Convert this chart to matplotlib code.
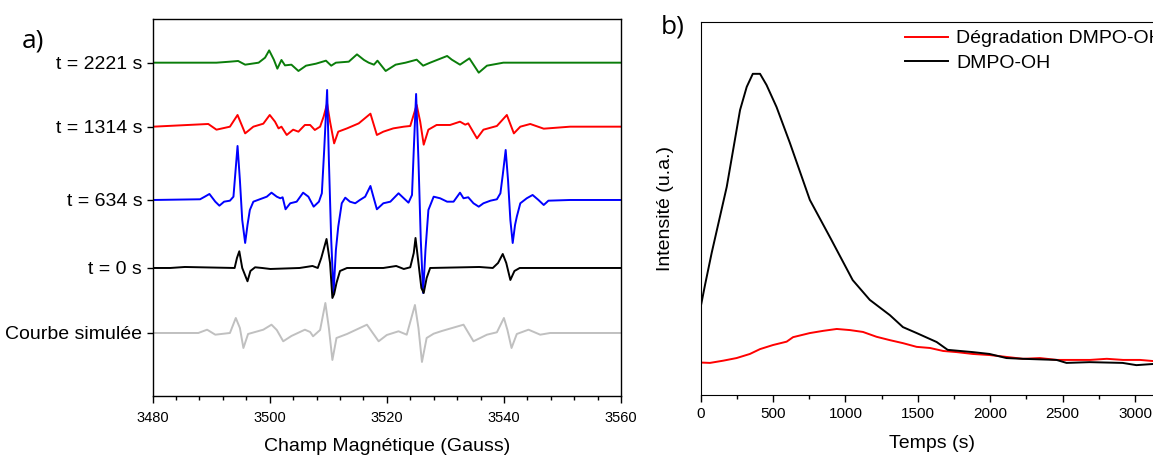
import numpy as np
import matplotlib
matplotlib.use("Agg")
import matplotlib.pyplot as plt
from matplotlib.ticker import MultipleLocator

plt.rcParams['font.family'] = ['Liberation Sans', 'DejaVu Sans']

# ---- a) RPE spectra (field in Gauss, signal in a.u. relative to own baseline)
labels = ["t = 2221 s", "t = 1314 s", "t = 634 s", "t = 0 s", "Courbe simulée"]
baselines = [333.3, 269.3, 196.0, 128.0, 63.0]
colors_a = ["#0a7d0a", "#ff0000", "#0000ff", "#000000", "#c0c0c0"]

field_2221 = [3480.1, 3490.9, 3493.2, 3494.6, 3495.8, 3498.1, 3499.2, 3499.9, 3500.7, 3501.3,
              3502.0, 3502.6, 3503.7, 3504.9, 3506.2, 3507.9, 3509.6, 3510.5, 3511.3, 3513.5,
              3514.9, 3516.1, 3516.9, 3517.8, 3518.4, 3519.8, 3521.5, 3523.2, 3525.1, 3526.2,
              3527.4, 3530.3, 3531.1, 3532.5, 3534.1, 3535.7, 3537.1, 3539.9, 3551.3, 3560.0]
sig_2221 = [0, 0, 1, 1.7, -2, 0, 5, 12.3, 3, -6,
            2.7, -2.7, -2, -8.3, -3, -1, 2, -3, 0, 1,
            8.3, 2.7, 0, -2, 2, -8.3, -2, 0, 3, -3,
            0, 6.7, 3, -2, 4.3, -10, -3, 0, 0, 0]

field_1314 = [3480.1, 3489.5, 3490.9, 3493.2, 3494.5, 3495.8, 3497.2, 3498.9, 3500.0, 3500.9,
              3501.5, 3502.0, 3502.9, 3504.0, 3504.9, 3506.0, 3506.9, 3507.7, 3508.6, 3509.2,
              3509.8, 3510.3, 3511.0, 3511.7, 3513.2, 3515.2, 3517.2, 3518.3, 3519.4, 3521.1,
              3522.9, 3524.0, 3525.1, 3525.7, 3526.3, 3527.1, 3528.5, 3530.8, 3532.5, 3533.4,
              3533.9, 3535.4, 3536.5, 3538.8, 3540.5, 3541.7, 3542.8, 3544.5, 3546.8, 3551.3, 3560.0]
sig_1314 = [0, 2.7, -3, 0, 11.7, -6.7, 0, 3, 11.7, 5,
            -1.7, 0, -8.3, -3, -5, 1.7, 1.7, -3.3, 0, 10,
            23, 5, -16.7, -5, -1.7, 3.3, 13, -8.3, -5, -1.7,
            0, 0.7, 21.7, 5, -18, -3, 1.7, 1.7, 5, 2,
            3.3, -11.7, -3, 0.7, 11.7, -6.7, 0, 2.7, -2, 0, 0]

field_634 = [3480.1, 3488.1, 3488.9, 3489.7, 3490.7, 3491.4, 3492.2, 3493.2, 3493.8, 3494.1,
             3494.5, 3494.9, 3495.3, 3495.8, 3496.2, 3496.6, 3497.2, 3498.3, 3499.5, 3500.3,
             3501.2, 3501.8, 3502.2, 3502.7, 3503.5, 3504.6, 3505.7, 3506.6, 3507.5, 3508.4,
             3508.9, 3509.3, 3509.8, 3510.1, 3510.5, 3510.9, 3511.3, 3511.7, 3512.3, 3512.9,
             3513.7, 3514.6, 3515.4, 3516.3, 3517.2, 3517.7, 3518.3, 3519.4, 3520.6, 3522.0,
             3522.9, 3523.7, 3524.3, 3524.6, 3525.0, 3525.4, 3525.8, 3526.2, 3526.6, 3527.1,
             3528.0, 3529.1, 3530.3, 3531.4, 3532.5, 3533.1, 3533.9, 3534.8, 3535.7, 3536.5,
             3537.7, 3538.8, 3539.4, 3539.8, 3540.3, 3540.7, 3541.1, 3541.5, 3541.9, 3542.2,
             3542.8, 3543.9, 3544.9, 3545.9, 3546.8, 3547.6, 3551.3, 3560.0]
sig_634 = [0, 0.7, 3.3, 6, -1.7, -5.7, -1.7, -0.7, 3.3, 25,
           54, 20, -20, -43, -25, -10, -1.7, 0.7, 3.3, 7.3,
           3.3, 1.7, 2.7, -9.3, -3.3, -1.7, 7.3, 3.3, -6.7, -1.7,
           6.7, 50, 110, 40, -40, -93, -50, -26.7, -3.3, 2.3,
           -1.7, -3.3, 0, 3.3, 14, 3.3, -9.3, -3.3, -1.7, 6.7,
           1.7, -2.7, 5, 50, 106, 40, -40, -93, -50, -10,
           3.3, 1.7, -1.7, -1.7, 7.3, 1.7, 2.7, -3.3, -6.7, -3.3,
           -0.7, 0.7, 6.7, 25, 50, 20, -20, -43, -25, -16.7,
           -3.3, 1.7, 5, 0, -5, -0.7, 0, 0]

field_0 = [3480.1, 3483.0, 3485.5, 3494.0, 3494.4, 3494.8, 3495.3, 3496.2, 3496.7, 3497.5,
           3498.7, 3500.1, 3505.1, 3506.2, 3507.3, 3508.2, 3508.8, 3509.7, 3510.3, 3510.7,
           3511.0, 3511.4, 3512.0, 3513.2, 3519.4, 3521.6, 3522.9, 3524.0, 3524.6, 3524.9,
           3525.4, 3525.9, 3526.3, 3526.8, 3527.4, 3535.8, 3538.1, 3539.0, 3539.8, 3540.4,
           3541.1, 3541.8, 3542.7, 3551.3, 3560.0]
sig_0 = [0, 0, 1, 0, 10, 16.7, 0, -13.3, -3, 0.7,
         0, -1, 0, 1, 2, 0, 10, 29, 5, -30,
         -26, -15, -3, 0, 0, 2, -1, 0.7, 15, 30,
         5, -20, -25, -10, 0, 1, 0, 5, 14, 5,
         -12, -3, 0, 0, 0]

field_sim = [3480.1, 3487.8, 3489.3, 3490.7, 3493.2, 3494.2, 3494.9, 3495.5, 3496.3, 3498.9,
             3500.3, 3501.2, 3502.3, 3503.7, 3506.0, 3506.9, 3507.4, 3508.6, 3509.5, 3510.1,
             3510.7, 3511.4, 3513.2, 3516.6, 3518.6, 3520.0, 3522.0, 3523.4, 3524.8, 3525.4,
             3526.0, 3526.8, 3528.0, 3529.4, 3533.1, 3534.8, 3537.1, 3538.8, 3540.0, 3540.6,
             3541.3, 3542.2, 3544.2, 3546.2, 3547.9, 3551.3, 3560.0]
sig_sim = [0, 0, 3.3, -1.7, 0, 15, 5, -15, -1, 3.3,
           8.3, 3, -8.3, -3, 3.3, 1, -3.3, 3, 30, 5,
           -27, -5, -1, 8.3, -8.3, -2, 1.7, -1.7, 28, 5,
           -29, -5, -0.7, 2, 8.3, -8.3, -1.7, 0.7, 15, 3,
           -15, -1, 3.3, -1.7, 0, 0, 0]

fields = [field_2221, field_1314, field_634, field_0, field_sim]
signals = [sig_2221, sig_1314, sig_634, sig_0, sig_sim]

# ---- b) kinetics
t_dmpo = [0, 30, 76, 180, 272, 318, 360, 410, 455, 524, 616, 754, 900, 1050, 1168, 1307,
          1397, 1492, 1630, 1706, 1878, 1995, 2112, 2223, 2458, 2527, 2686, 2914, 3010, 3120]
i_dmpo = [23.6, 29.5, 38.1, 55.8, 76.4, 82.6, 86.1, 86.1, 83.1, 77.2, 67.6, 52.3, 41.8, 30.8,
          25.5, 21.4, 18.2, 16.6, 14.2, 12.1, 11.5, 11.0, 9.9, 9.7, 9.4, 8.6, 8.8, 8.6, 8.0, 8.3]
t_degr = [0, 64, 156, 248, 340, 410, 500, 594, 638, 754, 847, 940, 1031, 1121, 1215, 1307,
          1397, 1492, 1584, 1675, 1768, 1880, 1998, 2113, 2226, 2343, 2460, 2575, 2690, 2805,
          2918, 3035, 3124]
i_degr = [8.7, 8.6, 9.2, 9.9, 11.0, 12.3, 13.4, 14.3, 15.5, 16.6, 17.2, 17.7, 17.4, 16.9, 15.6,
          14.7, 13.9, 12.9, 12.6, 11.8, 11.5, 11.0, 10.7, 10.2, 9.7, 9.9, 9.4, 9.4, 9.4, 9.7,
          9.4, 9.4, 9.1]

fig = plt.figure(figsize=(11.53, 4.55), dpi=100)

ax1 = fig.add_axes([0.1324, 0.1297, 0.4062, 0.8286])
for f, s, b, c in zip(fields, signals, baselines, colors_a):
    ax1.plot(f, np.array(s) + b, color=c, lw=1.4)
ax1.set_xlim(3480, 3560)
ax1.set_ylim(0, 377)
ax1.xaxis.set_major_locator(MultipleLocator(20))
ax1.xaxis.set_minor_locator(MultipleLocator(4))
ax1.set_yticks(baselines)
ax1.set_yticklabels(labels, fontsize=14)
ax1.tick_params(axis='x', labelsize=10.5, length=5, width=1, pad=6)
ax1.tick_params(axis='x', which='minor', length=3, width=1)
ax1.tick_params(axis='y', length=4, width=1)
ax1.set_xlabel("Champ Magnétique (Gauss)", fontsize=14, labelpad=9)
for sp in ax1.spines.values():
    sp.set_linewidth(1.0)

ax2 = fig.add_axes([0.6077, 0.1319, 0.4018, 0.8198])
ax2.plot(t_degr, i_degr, color="#ff0000", lw=1.4, label="Dégradation DMPO-OH")
ax2.plot(t_dmpo, i_dmpo, color="#000000", lw=1.4, label="DMPO-OH")
ax2.set_xlim(0, 3200)
ax2.set_ylim(0, 100)
ax2.xaxis.set_major_locator(MultipleLocator(500))
ax2.xaxis.set_minor_locator(MultipleLocator(250))
ax2.set_yticks([])
ax2.tick_params(axis='x', labelsize=11, length=5, width=1)
ax2.tick_params(axis='x', which='minor', length=3, width=1)
ax2.spines['right'].set_visible(False)
ax2.set_xlabel("Temps (s)", fontsize=14, labelpad=10)
ax2.set_ylabel("Intensité (u.a.)", fontsize=14, labelpad=19)
ax2.legend(loc="upper left", bbox_to_anchor=(0.425, 1.0), frameon=False, fontsize=14,
           handlelength=2.2, handletextpad=0.4, labelspacing=0.35, borderaxespad=0)

fig.text(0.029, 0.91, "a)", fontsize=19, family=["Open Sans", "DejaVu Sans"], va="center", ha="center")
fig.text(0.583, 0.94, "b)", fontsize=19, family=["Open Sans", "DejaVu Sans"], va="center", ha="center")

fig.savefig("out.png", dpi=100)
